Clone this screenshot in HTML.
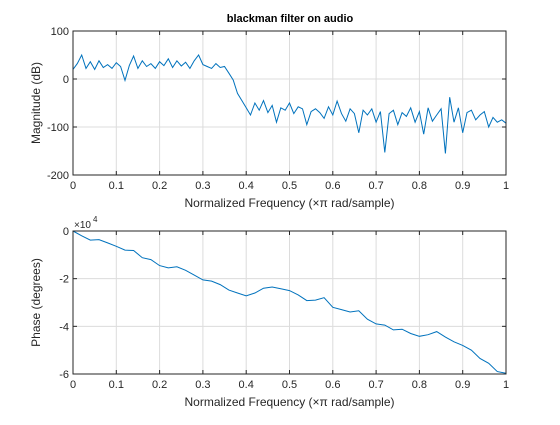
<!DOCTYPE html>
<html><head><meta charset="utf-8"><style>
body{margin:0;background:#fff;}
svg{font-family:"Liberation Sans",sans-serif;}
</style></head><body>
<svg id="fig" width="560" height="420" viewBox="0 0 560 420" xmlns="http://www.w3.org/2000/svg">
<rect width="560" height="420" fill="#fff"/>
<text x="290" y="22" text-anchor="middle" font-size="11" font-weight="bold" fill="#000">blackman filter on audio</text>
<g id="g1"></g><g id="g2"></g>
</svg>
<script>
const freqTicks=[0,0.1,0.2,0.3,0.4,0.5,0.6,0.7,0.8,0.9,1];
const freqTickLabels=["0","0.1","0.2","0.3","0.4","0.5","0.6","0.7","0.8","0.9","1"];
const magTicks=[-200,-100,0,100];
const magTickLabels=["-200","-100","0","100"];
const phaseTicks=[-6,-4,-2,0];
const phaseTickLabels=["-6","-4","-2","0"];
const magnitudeDb=[20,32,50,22,36,20,38,24,30,22,34,26,-3,28,48,22,38,26,32,22,36,28,42,24,38,27,35,22,38,50,30,26,22,32,
24,26,12,-2,-30,-45,
-60,-75,-50,-65,-45,-70,-55,-90,-60,-65,
-50,-72,-58,-62,-95,-68,-62,-70,-82,-58,
-75,-46,-72,-88,-62,-72,-112,-65,-75,-62,
-90,-68,-153,-72,-65,-95,-70,-78,-60,-90,
-68,-115,-60,-88,-75,-62,-155,-38,-90,-60,
-112,-70,-65,-85,-75,-68,-100,-80,-90,-85,-92];
const phase1e4=[0,-0.2,-0.38,-0.36,-0.5,-0.64,-0.8,-0.82,-1.12,-1.2,-1.45,-1.55,-1.5,-1.65,-1.85,-2.05,-2.1,-2.25,-2.48,-2.6,-2.72,-2.6,-2.4,-2.35,-2.42,-2.5,-2.68,-2.92,-2.9,-2.8,-3.2,-3.3,-3.4,-3.35,-3.7,-3.9,-3.95,-4.15,-4.12,-4.3,-4.42,-4.35,-4.22,-4.45,-4.65,-4.8,-5.0,-5.35,-5.55,-5.9,-5.97];
const NS="http://www.w3.org/2000/svg";
function mk(parent,tag,attrs,text){const e=document.createElementNS(NS,tag);for(const k in attrs)e.setAttribute(k,attrs[k]);if(text!==undefined)e.textContent=text;parent.appendChild(e);return e;}
function panel(g,top,bottom,yMin,yMax,yTicks,yLabels,xs,ys,ylabel,prefix){
  const L=73,R=506;
  const sx=v=>L+(v-0)*(R-L);
  const sy=v=>bottom-(v-yMin)/(yMax-yMin)*(bottom-top);
  const bg=mk(g,'rect',{x:L,y:top,width:R-L,height:bottom-top,fill:'#fff'});
  
  
  freqTicks.forEach((t,i)=>{
    const x=sx(t);
    mk(g,'line',{x1:x,x2:x,y1:top,y2:bottom,stroke:'#dcdcdc','stroke-width':1});
    mk(g,'line',{x1:x,x2:x,y1:bottom,y2:bottom-4,stroke:'#262626'});
    mk(g,'line',{x1:x,x2:x,y1:top,y2:top+4,stroke:'#262626'});
    const tl=mk(g,'text',{x:x,y:bottom+14,'text-anchor':'middle','font-size':11,fill:'#262626'},freqTickLabels[i]);
    
    
  });
  yTicks.forEach((t,i)=>{
    const y=sy(t);
    mk(g,'line',{x1:L,x2:R,y1:y,y2:y,stroke:'#dcdcdc','stroke-width':1});
    mk(g,'line',{x1:L,x2:L+4,y1:y,y2:y,stroke:'#262626'});
    mk(g,'line',{x1:R,x2:R-4,y1:y,y2:y,stroke:'#262626'});
    const tl=mk(g,'text',{x:L-4,y:y+4,'text-anchor':'end','font-size':11,fill:'#262626'},yLabels[i]);
    
    
  });
  const pts=ys.map((v,i)=>sx(xs[i]).toFixed(1)+','+sy(v).toFixed(1)).join(' ');
  const ln=mk(g,'polyline',{points:pts,fill:'none',stroke:'#0072bd','stroke-width':1});
  
  
  const bx=mk(g,'rect',{x:L,y:top,width:R-L,height:bottom-top,fill:'none',stroke:'#262626','stroke-width':1});
  
  
  const xl=mk(g,'text',{x:(L+R)/2,y:bottom+32,'text-anchor':'middle','font-size':12,fill:'#262626'},'Normalized Frequency  (\u00d7\u03c0 rad/sample)');
  
  
  const cy=(top+bottom)/2;
  const yl=mk(g,'text',{x:40,y:cy,'text-anchor':'middle','font-size':12,fill:'#262626',transform:'rotate(-90 40 '+cy+')'},ylabel);
  
  
}
const magX=magnitudeDb.map((_,i)=>i/(magnitudeDb.length-1));
const phX=phase1e4.map((_,i)=>i/(phase1e4.length-1));
panel(document.getElementById('g1'),31,175,-200,100,magTicks,magTickLabels,magX,magnitudeDb,'Magnitude (dB)','magnitude');
panel(document.getElementById('g2'),231,374,-6,0,phaseTicks,phaseTickLabels,phX,phase1e4,'Phase (degrees)','phase');
const ex=mk(document.getElementById('g2'),'text',{x:74,y:228,'font-size':10,fill:'#262626'},'\u00d710');


const ex2=mk(document.getElementById('g2'),'text',{x:93,y:222,'font-size':8,fill:'#262626'},'4');


</script>
</body></html>
